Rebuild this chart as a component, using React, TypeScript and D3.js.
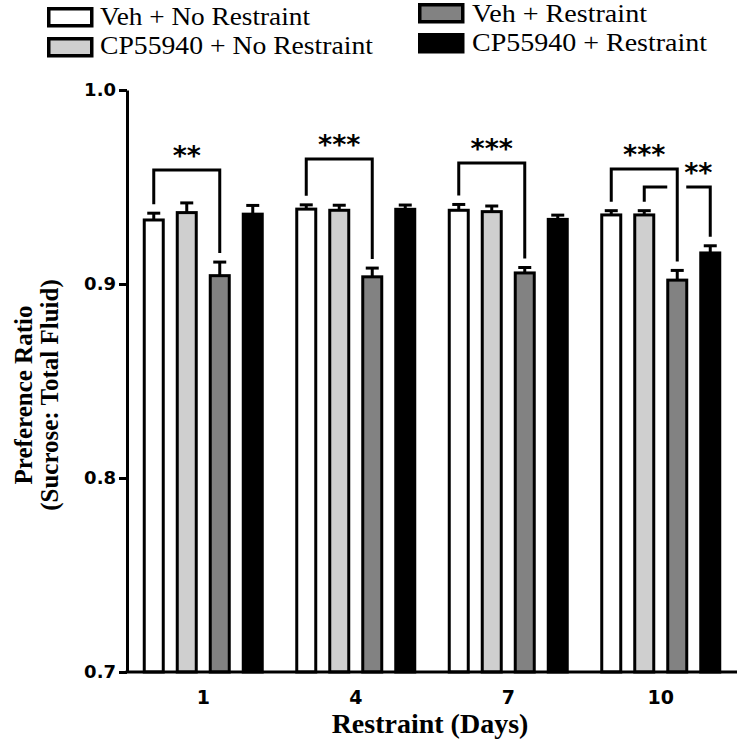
import React, { useEffect, useRef } from 'react'
import * as d3 from 'd3'

const days = ['1', '4', '7', '10']
const groups = ['Veh + No Restraint', 'CP55940 + No Restraint', 'Veh + Restraint', 'CP55940 + Restraint']

// mean preference ratio and SEM per group, one entry per day
const vehNoRestraint = [0.933, 0.9386, 0.938, 0.9356]
const vehNoRestraintErr = [0.0035, 0.0022, 0.003, 0.0022]
const cpNoRestraint = [0.9368, 0.938, 0.9373, 0.9356]
const cpNoRestraintErr = [0.005, 0.0026, 0.0029, 0.0022]
const vehRestraint = [0.9043, 0.9037, 0.9057, 0.902]
const vehRestraintErr = [0.007, 0.0045, 0.0028, 0.005]
const cpRestraint = [0.936, 0.9385, 0.9333, 0.916]
const cpRestraintErr = [0.0045, 0.0022, 0.0022, 0.0037]

const yTicks = [0.7, 0.8, 0.9, 1.0]

// significance brackets (group indexes inside a day)
const brackets = [
	{ day: '1', from: 0, to: 2, top: 0.9588, label: '**' },
	{ day: '4', from: 0, to: 2, top: 0.9644, label: '***' },
	{ day: '7', from: 0, to: 2, top: 0.9624, label: '***' },
	{ day: '10', from: 0, to: 2, top: 0.9593, label: '***' },
	{ day: '10', from: 1, to: 3, top: 0.95, label: '**', gapAt: 2 },
]

const fills = ['#ffffff', '#cfcfcf', '#828282', '#000000']
const serif = '"Liberation Serif", "Times New Roman", serif'
const sans = '"DejaVu Sans", Verdana, sans-serif'

const App = () => {
	const ref = useRef<SVGSVGElement>(null)

	useEffect(() => {
		const svg = d3.select(ref.current)
		svg.selectAll('*').remove()

		const left = 127, right = 737, top = 90, bottom = 672
		const values = [vehNoRestraint, cpNoRestraint, vehRestraint, cpRestraint]
		const errs = [vehNoRestraintErr, cpNoRestraintErr, vehRestraintErr, cpRestraintErr]

		const x = d3.scaleBand().domain(days).range([left, right])
		const xInner = d3.scaleBand<number>().domain(d3.range(groups.length))
			.range([-66, 66]).paddingInner(1 / 3).paddingOuter(1 / 6)
		const y = d3.scaleLinear().domain([0.7, 1.0]).range([bottom, top])

		const barCenter = (day: string, g: number) =>
			(x(day) as number) + x.bandwidth() / 2 + (xInner(g) as number) + xInner.bandwidth() / 2

		// bars + error bars
		const bars = svg.append('g')
		days.forEach((day, i) => {
			values.forEach((series, g) => {
				const cx = barCenter(day, g)
				const v = series[i]
				const e = errs[g][i]
				bars.append('rect')
					.attr('x', cx - xInner.bandwidth() / 2 + 1.5)
					.attr('y', y(v))
					.attr('width', xInner.bandwidth() - 3)
					.attr('height', bottom - y(v))
					.attr('fill', fills[g])
					.attr('stroke', '#000')
					.attr('stroke-width', 3)
				bars.append('line')
					.attr('x1', cx).attr('x2', cx)
					.attr('y1', y(v)).attr('y2', y(v + e))
					.attr('stroke', '#000').attr('stroke-width', 3)
				bars.append('line')
					.attr('x1', cx - 6.5).attr('x2', cx + 6.5)
					.attr('y1', y(v + e)).attr('y2', y(v + e))
					.attr('stroke', '#000').attr('stroke-width', 3)
			})
		})

		// brackets
		const br = svg.append('g').attr('fill', 'none').attr('stroke', '#000').attr('stroke-width', 3)
		const labels = svg.append('g')
		brackets.forEach(b => {
			const i = days.indexOf(b.day)
			const x1 = barCenter(b.day, b.from)
			const x2 = barCenter(b.day, b.to)
			const yt = y(b.top)
			const y1 = y(values[b.from][i] + errs[b.from][i]) - 9
			const y2 = y(values[b.to][i] + errs[b.to][i]) - 9
			let lx = (x1 + x2) / 2
			if (b.gapAt !== undefined) {
				const gx = barCenter(b.day, b.gapAt)
				br.append('path').attr('d', `M${x1},${y1}V${yt}H${gx - 10}`)
				br.append('path').attr('d', `M${gx + 9},${yt}H${x2}V${y2}`)
				lx = (gx + 9 + x2) / 2
			} else {
				br.append('path').attr('d', `M${x1},${y1}V${yt}H${x2}V${y2}`)
			}
			labels.append('text')
				.attr('x', lx)
				.attr('y', yt - 20 + 15)
				.attr('text-anchor', 'middle')
				.attr('font-family', sans)
				.attr('font-weight', 'bold')
				.attr('font-size', 27)
				.text(b.label)
		})

		// y axis
		const yAxis = svg.append('g')
			.attr('transform', `translate(${left},0)`)
			.call(d3.axisLeft(y).tickValues(yTicks).tickFormat(d3.format('.1f')).tickSize(8).tickSizeOuter(0).tickPadding(3))
		yAxis.select('.domain').attr('stroke-width', 3)
		yAxis.selectAll('.tick line').attr('stroke-width', 3)
		yAxis.selectAll('.tick text')
			.attr('font-family', sans).attr('font-weight', 'bold').attr('font-size', 18).attr('fill', '#000')

		// x axis
		const xAxis = svg.append('g')
			.attr('transform', `translate(0,${bottom})`)
			.call(d3.axisBottom(x).tickSize(0).tickSizeOuter(0).tickPadding(19))
		xAxis.select('.domain').attr('stroke-width', 3).attr('d', `M${left - 1.5},0H${right}`)
		xAxis.selectAll('.tick text')
			.attr('font-family', sans).attr('font-weight', 'bold').attr('font-size', 19).attr('fill', '#000')

		// axis titles
		svg.append('text')
			.attr('x', 430).attr('y', 733)
			.attr('text-anchor', 'middle')
			.attr('font-family', serif).attr('font-weight', 'bold').attr('font-size', 28)
			.text('Restraint (Days)')
		const yt = svg.append('g').attr('transform', 'translate(0,395) rotate(-90)')
			.attr('font-family', serif).attr('font-weight', 'bold').attr('font-size', 25)
			.attr('text-anchor', 'middle')
		yt.append('text').attr('x', 0).attr('y', 32).text('Preference Ratio')
		yt.append('text').attr('x', 0).attr('y', 58).text('(Sucrose: Total Fluid)')

		// legend, two columns
		const legendPos = [
			{ bx: 47, by: 7, tx: 100, ty: 25, w: 210 },
			{ bx: 47, by: 37, tx: 100, ty: 54, w: 273 },
			{ bx: 418, by: 3, tx: 472, ty: 22, w: 175 },
			{ bx: 418, by: 33, tx: 472, ty: 51, w: 235 },
		]
		const legend = svg.append('g')
		groups.forEach((name, g) => {
			const p = legendPos[g]
			legend.append('rect')
				.attr('x', p.bx + 1.75).attr('y', p.by + 1.75)
				.attr('width', 43).attr('height', 17)
				.attr('fill', fills[g]).attr('stroke', '#000').attr('stroke-width', 3.5)
			legend.append('text')
				.attr('x', p.tx).attr('y', p.ty)
				.attr('font-family', serif).attr('font-size', 25)
				.attr('textLength', p.w).attr('lengthAdjust', 'spacingAndGlyphs')
				.text(name)
		})
	}, [])

	return (
		<svg
			ref={ref}
			width={750}
			height={750}
			style={{ position: 'absolute', left: 0, top: 0, background: '#fff' }}
		></svg>
	)
}

export default App
